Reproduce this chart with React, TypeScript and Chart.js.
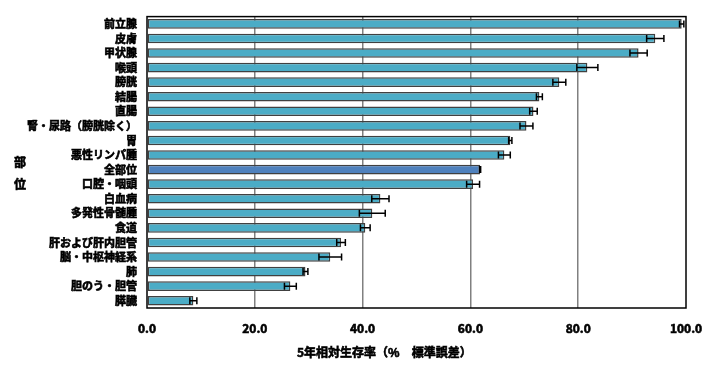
import React, { useEffect, useRef } from "react";
import { Chart, registerables } from "chart.js";

Chart.register(...registerables);

const categories = [
  "前立腺", "皮膚", "甲状腺", "喉頭", "膀胱", "結腸", "直腸", "腎・尿路（膀胱除く）", "胃", "悪性リンパ腫",
  "全部位", "口腔・咽頭", "白血病", "多発性骨髄腫", "食道", "肝および肝内胆管", "脳・中枢神経系", "肺", "胆のう・胆管", "膵臓",
];
const survival = [99.2, 94.3, 91.2, 81.7, 76.5, 72.8, 71.7, 70.4, 67.4, 66.3, 61.8, 60.5, 43.3, 41.8, 40.5, 36.0, 34.0, 29.4, 26.6, 8.6];
const stdError = [0.4, 1.6, 1.6, 1.95, 1.2, 0.55, 0.7, 1.2, 0.3, 1.1, 0.1, 1.2, 1.6, 2.4, 0.9, 0.8, 2.1, 0.45, 1.1, 0.65];
const xTicks = [0, 20, 40, 60, 80, 100];
const xTitle = "5年相対生存率（%　標準誤差）";
const yTitle = ["部", "位"];

const BAR = "#4BACC6";
const BAR_ALL = "#4F81BD";
const FONT = "'Noto Sans CJK JP', 'DejaVu Sans', sans-serif";

const errorBarPlugin = {
  id: "errorBars",
  afterDatasetsDraw(chart: any) {
    const ctx = chart.ctx;
    const meta = chart.getDatasetMeta(0);
    const xs = chart.scales.x;
    ctx.save();
    ctx.strokeStyle = "#000";
    ctx.lineWidth = 1.5;
    meta.data.forEach((bar: any, i: number) => {
      const v = survival[i];
      const e = stdError[i];
      const x1 = xs.getPixelForValue(v - e);
      const x2 = xs.getPixelForValue(v + e);
      const y = bar.y;
      const h = 3.5;
      ctx.beginPath();
      ctx.moveTo(x1, y);
      ctx.lineTo(x2, y);
      ctx.moveTo(x1, y - h);
      ctx.lineTo(x1, y + h);
      ctx.moveTo(x2, y - h);
      ctx.lineTo(x2, y + h);
      ctx.stroke();
    });
    ctx.restore();
  },
};

const frameAndTitlePlugin = {
  id: "frameAndTitle",
  afterDraw(chart: any) {
    const ctx = chart.ctx;
    const a = chart.chartArea;
    ctx.save();
    ctx.strokeStyle = "#000";
    ctx.lineWidth = 1.5;
    ctx.strokeRect(a.left, a.top, a.right - a.left, a.bottom - a.top);
    ctx.fillStyle = "#000";
    ctx.font = `bold 12px ${FONT}`;
    ctx.textAlign = "center";
    ctx.textBaseline = "middle";
    ctx.lineWidth = 0.6;
    const mid = (a.top + a.bottom) / 2;
    ctx.fillText(yTitle[0], 20, mid);
    ctx.strokeText(yTitle[0], 20, mid);
    ctx.fillText(yTitle[1], 20, mid + 22);
    ctx.strokeText(yTitle[1], 20, mid + 22);
    ctx.textAlign = "left";
    const tx = a.left + 150;
    const ty = a.bottom + 44;
    ctx.fillText(xTitle, tx, ty);
    ctx.strokeText(xTitle, tx, ty);
    ctx.restore();
  },
};

export default function App() {
  const ref = useRef<HTMLCanvasElement>(null);
  useEffect(() => {
    document.body.style.margin = "0";
    const chart = new Chart(ref.current!, {
      type: "bar",
      data: {
        labels: categories,
        datasets: [
          {
            data: survival,
            backgroundColor: categories.map((c) => (c === "全部位" ? BAR_ALL : BAR)),
            borderColor: "#404040",
            borderWidth: 1.5,
            borderSkipped: false,
            barPercentage: 0.66,
            categoryPercentage: 1,
          },
        ],
      },
      options: {
        indexAxis: "y",
        animation: false,
        responsive: false,
        maintainAspectRatio: false,
        layout: { padding: { left: 0, right: 34, top: 13, bottom: 0 } },
        plugins: { legend: { display: false }, tooltip: { enabled: false } },
        scales: {
          x: {
            min: 0,
            max: 100,
            afterBuildTicks: (s: any) => {
              s.ticks = xTicks.map((v) => ({ value: v }));
            },
            afterFit: (s: any) => {
              s.height = 70;
            },
            grid: {
              color: (c: any) => (c.tick && (c.tick.value === 0 || c.tick.value === 100) ? "rgba(0,0,0,0)" : "#808080"),
              lineWidth: 1.5,
              drawTicks: false,
            },
            border: { display: false },
            ticks: {
              padding: 13,
              color: "#000",
              textStrokeColor: "#000",
              textStrokeWidth: 0.6,
              font: { family: FONT, size: 12, weight: "bold" },
              callback: (v: any) => Number(v).toFixed(1),
            },
            title: { display: false },
          },
          y: {
            afterFit: (s: any) => {
              s.width = 147;
            },
            grid: { display: false, drawTicks: false },
            border: { display: false },
            ticks: {
              padding: 10,
              autoSkip: false,
              color: "#000",
              textStrokeColor: "#000",
              textStrokeWidth: 0.6,
              font: { family: FONT, size: 11, weight: "bold" },
            },
          },
        },
      },
      plugins: [errorBarPlugin, frameAndTitlePlugin],
    } as any);
    return () => chart.destroy();
  }, []);
  return (
    <div style={{ width: 720, height: 378, background: "#fff" }}>
      <canvas ref={ref} width={720} height={378} style={{ width: 720, height: 378, display: "block" }} />
    </div>
  );
}
